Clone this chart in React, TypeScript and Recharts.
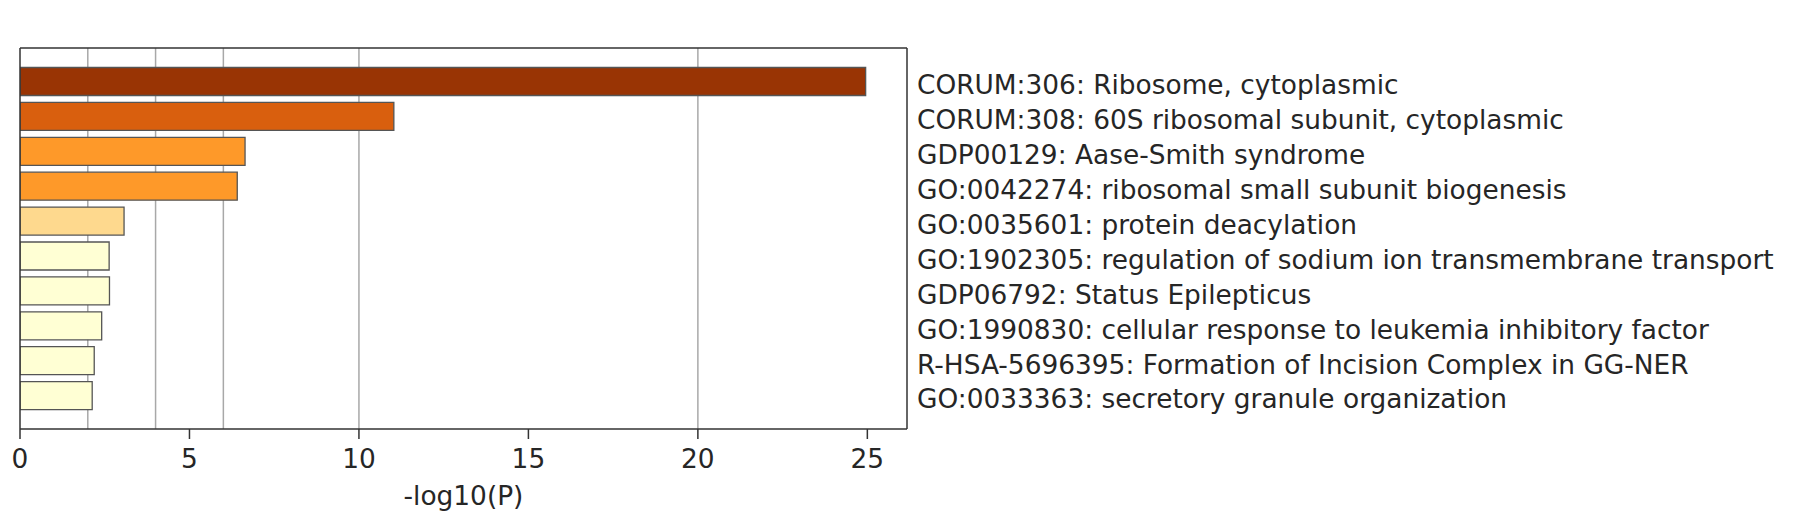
import { Bar, BarChart, CartesianGrid, Cell, Label, XAxis, YAxis } from "recharts";

const TERMS = [
  "CORUM:306: Ribosome, cytoplasmic",
  "CORUM:308: 60S ribosomal subunit, cytoplasmic",
  "GDP00129: Aase-Smith syndrome",
  "GO:0042274: ribosomal small subunit biogenesis",
  "GO:0035601: protein deacylation",
  "GO:1902305: regulation of sodium ion transmembrane transport",
  "GDP06792: Status Epilepticus",
  "GO:1990830: cellular response to leukemia inhibitory factor",
  "R-HSA-5696395: Formation of Incision Complex in GG-NER",
  "GO:0033363: secretory granule organization",
];

// -log10(P) per term
const LOG_P = [24.95, 11.03, 6.64, 6.41, 3.07, 2.63, 2.64, 2.41, 2.19, 2.13];

const X_TICKS = [0, 5, 10, 15, 20, 25];
const GRID_VALUES = [2, 4, 6, 10, 20];
const X_MAX = 26.17;

const BAR_COLORS = [
  "#993404",
  "#d95f0e",
  "#fe9929",
  "#fe9929",
  "#fed98e",
  "#ffffd4",
  "#ffffd4",
  "#ffffd4",
  "#ffffd4",
  "#ffffd4",
];

const FONT = "'DejaVu Sans', sans-serif";
const INK = "#262626";
const FRAME = "#333333";
const textStyle = { fontSize: 26.4, fill: INK, fontFamily: FONT };

const data = TERMS.map((term, i) => ({ term, value: LOG_P[i] }));

export default function App() {
  return (
    <div style={{ position: "absolute", left: 0, top: 0, background: "#fff" }}>
      <BarChart
        width={1804}
        height={520}
        layout="vertical"
        data={data}
        margin={{ top: 47, right: 0, bottom: 0, left: 19 }}
        barCategoryGap="10%"
      >
        <CartesianGrid horizontal={false} verticalValues={GRID_VALUES} stroke="#a8a8a8" strokeWidth={1.5} />
        <XAxis
          type="number"
          domain={[0, X_MAX]}
          ticks={X_TICKS}
          allowDataOverflow
          height={91}
          tickSize={10}
          tickMargin={10}
          stroke={FRAME}
          strokeWidth={1.5}
          tick={textStyle}
        >
          <Label value="-log10(P)" position="insideBottom" offset={15} style={textStyle} />
        </XAxis>
        {/* top edge of the frame */}
        <XAxis
          xAxisId="top"
          orientation="top"
          type="number"
          domain={[0, X_MAX]}
          allowDataOverflow
          height={1}
          tick={false}
          tickLine={false}
          stroke={FRAME}
          strokeWidth={1.5}
        />
        {/* left edge of the frame */}
        <YAxis
          yAxisId="left"
          orientation="left"
          type="number"
          domain={[0, 1]}
          allowDataOverflow
          width={1}
          tick={false}
          tickLine={false}
          stroke={FRAME}
          strokeWidth={1.5}
        />
        <YAxis
          type="category"
          dataKey="term"
          orientation="right"
          width={897}
          tickLine={false}
          tickSize={0}
          tickMargin={10}
          interval={0}
          padding={{ top: 16, bottom: 16 }}
          stroke={FRAME}
          strokeWidth={1.5}
          tick={{ ...textStyle, dy: 3.5 }}
        />
        <Bar dataKey="value" stroke="#555" strokeWidth={1.3} isAnimationActive={false}>
          {data.map((_, i) => (
            <Cell key={i} fill={BAR_COLORS[i]} />
          ))}
        </Bar>
      </BarChart>
    </div>
  );
}
